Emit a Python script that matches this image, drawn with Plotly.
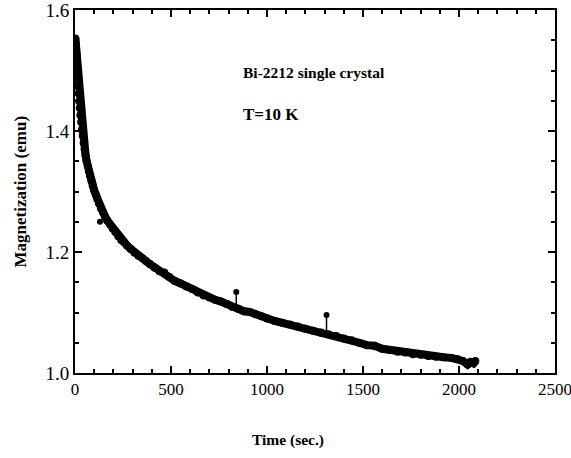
import plotly.graph_objects as go

# Relaxation data
time_s = [2, 4, 6, 8, 10, 12, 14, 16, 19, 22, 25, 28, 32, 36, 40, 45, 50, 55, 60, 66,
          72, 78, 85, 92, 100, 108, 116, 125, 135, 145, 156, 168, 182, 196, 210, 225,
          240, 255, 270, 290, 310, 330, 350, 370, 390, 415, 440, 465, 490, 520, 550,
          580, 610, 640, 670, 700, 730, 760, 790, 820, 850, 880, 910, 940, 970, 1000,
          1040, 1080, 1120, 1160, 1200, 1240, 1280, 1320, 1360, 1400, 1440, 1480,
          1520, 1560, 1600, 1640, 1680, 1720, 1760, 1800, 1840, 1880, 1920, 1960,
          1990, 2020, 2045, 2060, 2075, 2085]
magnet = [1.553, 1.545, 1.536, 1.527, 1.512, 1.500, 1.488, 1.474, 1.462, 1.449, 1.438,
          1.426, 1.415, 1.402, 1.392, 1.380, 1.370, 1.360, 1.351, 1.342, 1.334, 1.326,
          1.318, 1.310, 1.302, 1.295, 1.288, 1.280, 1.272, 1.266, 1.259, 1.252, 1.246,
          1.239, 1.233, 1.226, 1.220, 1.216, 1.211, 1.205, 1.199, 1.194, 1.190, 1.185,
          1.180, 1.174, 1.168, 1.166, 1.159, 1.152, 1.148, 1.143, 1.139, 1.133, 1.128,
          1.125, 1.121, 1.118, 1.114, 1.109, 1.106, 1.102, 1.101, 1.097, 1.094, 1.090,
          1.086, 1.083, 1.080, 1.077, 1.073, 1.070, 1.067, 1.064, 1.061, 1.057, 1.054,
          1.050, 1.046, 1.045, 1.040, 1.038, 1.035, 1.034, 1.031, 1.030, 1.028, 1.027,
          1.026, 1.025, 1.023, 1.020, 1.014, 1.018, 1.016, 1.020]

# Isolated outlier points (spikes)
spike_t = [130, 840, 1310]
spike_top = [1.250, 1.134, 1.096]
spike_drop = [0.0, 0.027, 0.029]

FONT = "Liberation Serif"
X_RANGE = [0, 2500]
Y_RANGE = [1.0, 1.6]

fig = go.Figure()
fig.add_trace(go.Scatter(
    x=time_s, y=magnet, mode="lines+markers",
    line=dict(color="black", width=8),
    marker=dict(color="black", size=8),
    showlegend=False, hoverinfo="skip"))
fig.add_trace(go.Scatter(
    x=spike_t, y=spike_top, mode="markers",
    marker=dict(color="black", size=6),
    error_y=dict(type="data", symmetric=False, array=[0, 0, 0],
                 arrayminus=spike_drop, color="black", thickness=1.5, width=0),
    showlegend=False, hoverinfo="skip"))
# invisible trace to carry the mirrored (top/right) tick axes
fig.add_trace(go.Scatter(x=[None], y=[None], xaxis="x2", yaxis="y2",
                         showlegend=False, hoverinfo="skip"))

tick_common = dict(ticks="inside", tickcolor="black", tickwidth=1.5,
                   showgrid=False, zeroline=False, automargin=False,
                   showline=True, linecolor="black", linewidth=2)

fig.update_layout(
    width=571, height=458,
    margin=dict(l=75, r=16, t=10, b=85, autoexpand=False),
    paper_bgcolor="white", plot_bgcolor="white",
    xaxis=dict(range=X_RANGE, tick0=0, dtick=500, ticklen=7,
               ticklabeloverflow="allow",
               minor=dict(dtick=100, ticklen=4, ticks="inside", tickcolor="black"),
               tickfont=dict(family=FONT, size=17, color="black"), **tick_common),
    yaxis=dict(range=Y_RANGE, tick0=1.0, dtick=0.2, ticklen=7, tickformat=".1f",
               ticklabeloverflow="allow",
               minor=dict(dtick=0.05, ticklen=4, ticks="inside", tickcolor="black"),
               tickfont=dict(family=FONT, size=19, color="black"), **tick_common),
    xaxis2=dict(range=X_RANGE, overlaying="x", side="top", anchor="y2",
                tick0=0, dtick=500, ticklen=7, showticklabels=False,
                minor=dict(dtick=100, ticklen=4, ticks="inside", tickcolor="black"),
                **tick_common),
    yaxis2=dict(range=Y_RANGE, overlaying="y", side="right", anchor="x2",
                tick0=1.0, dtick=0.2, ticklen=7, showticklabels=False,
                minor=dict(dtick=0.05, ticklen=4, ticks="inside", tickcolor="black"),
                **tick_common),
)

fig.add_annotation(text="<b>Bi-2212 single crystal</b>", x=1247, y=1.496,
                   xanchor="center", yanchor="middle", showarrow=False,
                   font=dict(family=FONT, size=15.5, color="black"))
fig.add_annotation(text="<b>T=10 K</b>", x=1021, y=1.428,
                   xanchor="center", yanchor="middle", showarrow=False,
                   font=dict(family=FONT, size=17, color="black"))

# axis titles (placed in paper coordinates)
fig.add_annotation(text="<b>Time (sec.)</b>", x=(288 - 75) / 480, y=-(440 - 373) / 363,
                   xref="paper", yref="paper", showarrow=False,
                   xanchor="center", yanchor="middle",
                   font=dict(family=FONT, size=15.5, color="black"))
fig.add_annotation(text="<b>Magnetization (emu)</b>", x=-(75 - 20) / 480, y=0.5,
                   xref="paper", yref="paper", textangle=-90, showarrow=False,
                   xanchor="center", yanchor="middle",
                   font=dict(family=FONT, size=17, color="black"))

fig.write_html("out.html")
